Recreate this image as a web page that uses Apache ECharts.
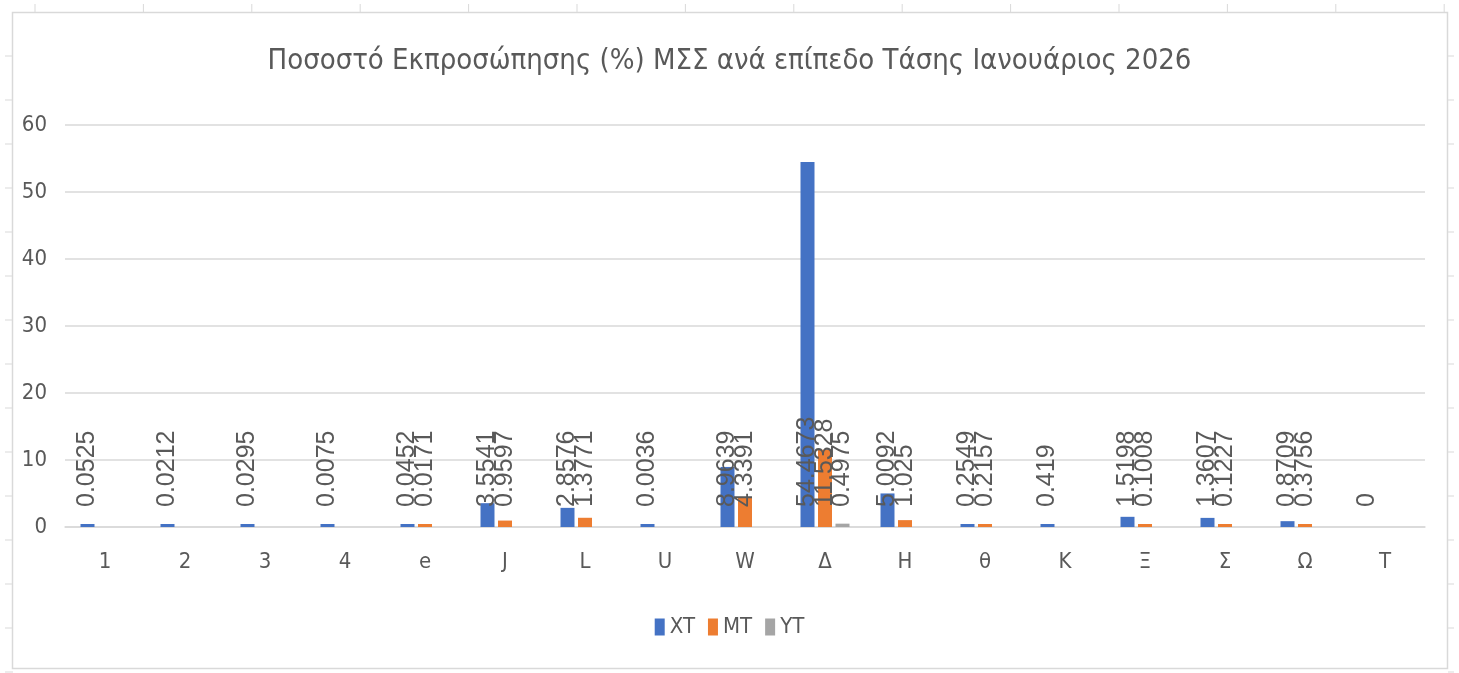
<!DOCTYPE html>
<html>
<head>
<meta charset="utf-8">
<script src="https://cdn.jsdelivr.net/npm/echarts@6/dist/echarts.min.js"></script>
<style>
  html, body { margin: 0; padding: 0; background: #fff; }
  #chart { width: 1459px; height: 673px; }
</style>
</head>
<body>
<div id="chart"></div>
<script>
// data
const categories = ['1', '2', '3', '4', 'e', 'J', 'L', 'U', 'W', 'Δ', 'H', 'θ', 'K', 'Ξ', 'Σ', 'Ω', 'T'];
const xtValues = [0.0525, 0.0212, 0.0295, 0.0075, 0.0452, 3.5541, 2.8576, 0.0036, 8.9639, 54.4673, 5.0092, 0.2549, 0.419, 1.5198, 1.3607, 0.8709, 0];
const mtValues = [null, null, null, null, 0.0171, 0.9597, 1.3771, null, 4.3391, 11.5328, 1.025, 0.2157, null, 0.1008, 0.1227, 0.3756, null];
const ytValues = [null, null, null, null, null, null, null, null, null, 0.4975, null, null, null, null, null, null, null];
const seriesNames = ['XT', 'MT', 'YT'];
const yTicks = [0, 10, 20, 30, 40, 50, 60];

const textColor = '#595959';
const narrow = '"DejaVu Sans Condensed", sans-serif';

let chartDom = document.getElementById('chart');
let myChart = echarts.init(chartDom);

function makeSeries(name, values, color) {
  return {
    name: name,
    type: 'bar',
    barWidth: 14,
    barGap: '25%',
    barMinHeight: 3,
    itemStyle: { color: color },
    label: {
      show: true,
      position: 'insideBottom',
      distance: 20,
      rotate: 90,
      align: 'left',
      verticalAlign: 'middle',
      color: textColor,
      fontFamily: '"Liberation Sans", sans-serif',
      fontSize: 25,
      formatter: p => String(p.value)
    },
    // zero value: keep the label, hide the min-height stub
    data: values.map(v => v === 0 ? { value: v, itemStyle: { color: 'rgba(0,0,0,0)' } } : v)
  };
}

// spreadsheet cell marks around the chart box
const decor = [];
for (let x = 35; x < 1459; x += 108.4) {
  decor.push({ type: 'line', shape: { x1: x, y1: 4, x2: x, y2: 12 }, style: { stroke: '#d9d9d9', lineWidth: 1 } });
}
for (let y = 56; y < 673; y += 44) {
  decor.push({ type: 'line', shape: { x1: 5, y1: y, x2: 13, y2: y }, style: { stroke: '#d9d9d9', lineWidth: 1 } });
  decor.push({ type: 'line', shape: { x1: 1448, y1: y, x2: 1454, y2: y }, style: { stroke: '#d9d9d9', lineWidth: 1 } });
}
decor.push({ type: 'rect', shape: { x: 12.5, y: 12.5, width: 1435, height: 656 }, style: { fill: null, stroke: '#d9d9d9', lineWidth: 1.5 } });

let option = {
  animation: false,
  backgroundColor: '#fff',
  title: {
    text: 'Ποσοστό Εκπροσώπησης (%) ΜΣΣ ανά επίπεδο Τάσης Ιανουάριος 2026',
    left: 'center',
    top: 42,
    textStyle: { color: textColor, fontFamily: narrow, fontWeight: 'normal', fontSize: 29 }
  },
  legend: {
    data: seriesNames,
    left: 'center',
    top: 611,
    icon: 'rect',
    itemWidth: 10,
    itemHeight: 17,
    itemGap: 13,
    textStyle: { color: textColor, fontFamily: narrow, fontSize: 22 }
  },
  graphic: decor,
  grid: { left: 65, right: 34, top: 125, bottom: 146 },
  xAxis: {
    type: 'category',
    data: categories,
    axisLine: { lineStyle: { color: '#d9d9d9', width: 1.5 } },
    axisTick: { show: false },
    axisLabel: { color: textColor, fontFamily: narrow, fontSize: 22, margin: 24 }
  },
  yAxis: {
    type: 'value',
    min: yTicks[0],
    max: yTicks[yTicks.length - 1],
    interval: 10,
    axisLine: { show: false },
    axisTick: { show: false },
    axisLabel: { color: textColor, fontFamily: narrow, fontSize: 22, margin: 18 },
    splitLine: { lineStyle: { color: '#d9d9d9', width: 1.5 } }
  },
  series: [
    makeSeries(seriesNames[0], xtValues, '#4472C4'),
    makeSeries(seriesNames[1], mtValues, '#ED7D31'),
    makeSeries(seriesNames[2], ytValues, '#A5A5A5')
  ]
};

option && myChart.setOption(option);
</script>
</body>
</html>
